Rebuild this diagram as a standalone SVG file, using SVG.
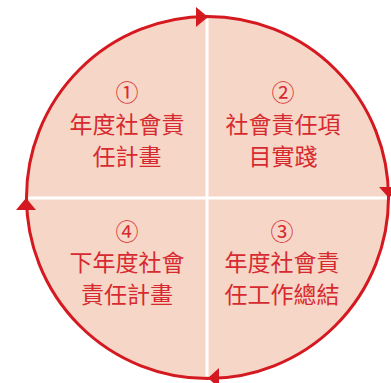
<svg xmlns="http://www.w3.org/2000/svg" width="391" height="383" viewBox="0 0 391 383">
<style>
.t{font-family:"Noto Sans CJK TC","Noto Sans CJK SC",sans-serif;font-size:23px;fill:#D62A30;text-anchor:middle}
.arr{fill:#D51920}
</style>
<rect width="391" height="383" fill="#FFFFFF"/>
<g id="circle">
<circle cx="207.5" cy="197.5" r="181" fill="#F6D6C6" stroke="#D51920" stroke-width="3"/>
</g>
<g id="connectors">
<line x1="207" y1="19" x2="207" y2="376" stroke="#FFFFFF" stroke-width="3"/>
<line x1="28" y1="198" x2="387" y2="198" stroke="#FFFFFF" stroke-width="3"/>
<polygon class="arr" points="208,17 196,7 196,27"/>
<polygon class="arr" points="389,198 379,187 399,187"/>
<polygon class="arr" points="208,378 219,368 219,388"/>
<polygon class="arr" points="26,198 16,210 36,210"/>
</g>
<g id="q1">
<text class="t" x="127" y="101">①</text>
<text class="t" x="127" y="133">年度社會責</text>
<text class="t" x="127" y="165">任計畫</text>
</g>
<g id="q2">
<text class="t" x="283" y="101">②</text>
<text class="t" x="283" y="133">社會責任項</text>
<text class="t" x="283" y="165">目實踐</text>
</g>
<g id="q3">
<text class="t" x="282" y="240">③</text>
<text class="t" x="282" y="271">年度社會責</text>
<text class="t" x="282" y="303">任工作總結</text>
</g>
<g id="q4">
<text class="t" x="127" y="240">④</text>
<text class="t" x="127" y="271">下年度社會</text>
<text class="t" x="127" y="303">責任計畫</text>
</g>
</svg>
